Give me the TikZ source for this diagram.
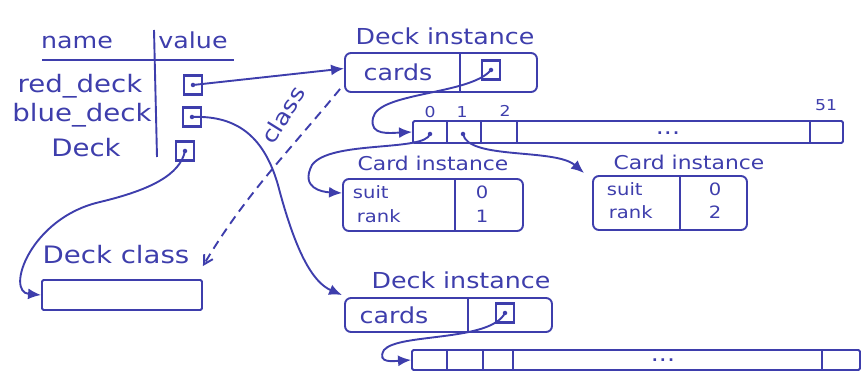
\documentclass[tikz,border=0pt]{standalone}
\usepackage{fontspec}
\setmainfont{DejaVu Sans}
\newfontfamily\hand[FakeStretch=1.15]{DejaVu Sans}
\usetikzlibrary{arrows.meta}
\definecolor{ink}{RGB}{62,62,172}
\tikzset{
  lbl/.style={inner sep=0pt, font=\hand\fontsize{22}{24}\selectfont},
  blbl/.style={inner sep=0pt, font=\hand\fontsize{24}{26}\selectfont},
  mlbl/.style={inner sep=0pt, font=\hand\fontsize{19}{21}\selectfont},
  slbl/.style={inner sep=0pt, font=\hand\fontsize{17}{19}\selectfont},
  tlbl/.style={inner sep=0pt, font=\hand\fontsize{15}{17}\selectfont},
  objbox/.style={draw, rounded corners=6pt, inner sep=0pt},
  plainbox/.style={draw, rounded corners=1.5pt, inner sep=0pt},
  ptrbox/.style={draw, inner sep=0pt, minimum width=18pt, minimum height=19pt, line width=2.1pt},
  dotn/.style={circle, fill, inner sep=0pt, minimum size=4.5pt},
  link/.style={-{Latex[length=13pt,width=11pt]}, line width=1.9pt},
  classlink/.style={-{Straight Barb[length=9pt,width=10pt]}, dashed, dash pattern=on 9pt off 6pt, line width=1.9pt},
}
\begin{document}
\begin{tikzpicture}[x=1pt,y=-1pt,color=ink,line width=1.9pt]
\useasboundingbox (0,0) rectangle (863,374);

% name/value table
\node[lbl] (hname) at (77,42) {name};
\node[lbl] (hvalue) at (193,40) {value};
\coordinate (hl) at (42,60); \coordinate (hr) at (234,60);
\draw (hl) -- (hr);
\coordinate (vt) at (154,30); \coordinate (vb) at (157,157);
\draw (vt) -- (vb);
\node[blbl] (nred) at (80,86) {red\_deck};
\node[blbl] (nblue) at (82,115) {blue\_deck};
\node[blbl] (ndeck) at (86,148) {Deck};
\node[ptrbox] (pred) at (193,85) {};
\node[ptrbox] (pblue) at (192,117) {};
\node[ptrbox] (pdeck) at (185,151) {};
\node[dotn] (pdred) at (pred.center) {};
\node[dotn] (pdblue) at (pblue.center) {};
\node[dotn] (pddeck) at (pdeck.center) {};

% Deck instance 1
\node[lbl] (di1l) at (445,36) {Deck instance};
\node[objbox, minimum width=192pt, minimum height=39pt] (di1) at (441,72.5) {};
\draw (460,53) -- (460,92);
\node[lbl] (di1k) at (398,72) {cards};
\node[ptrbox] (dp1) at (491,70) {};
\node[dotn] (dp1d) at (dp1.center) {};

% array 1
\node[plainbox, minimum width=430pt, minimum height=22pt] (a1) at (628,132) {};
\foreach \x in {447,481,517,810} \draw (\x,121) -- (\x,143);
\node[tlbl] (i0) at (430,112) {0};
\node[tlbl] (i1) at (462,112) {1};
\node[tlbl] (i2) at (505,111) {2};
\node[tlbl] (i51) at (826,105) {51};
\node[lbl] (a1dots) at (668,133) {...};
\node[dotn] (c0) at (430,134) {};
\node[dotn] (c1) at (463,134) {};

% Card instances
\node[mlbl] (ci1l) at (433,163) {Card instance};
\node[objbox, minimum width=180pt, minimum height=52pt] (ci1) at (433,205) {};
\draw (455,179) -- (455,231);
\node[slbl, anchor=west] (ci1s) at (352,192) {suit};
\node[slbl, anchor=west] (ci1r) at (356,216) {rank};
\node[slbl] (ci1sv) at (482,192) {0};
\node[slbl] (ci1rv) at (482,216) {1};

\node[mlbl] (ci2l) at (689,162) {Card instance};
\node[objbox, minimum width=154pt, minimum height=54pt] (ci2) at (670,203) {};
\draw (680,176) -- (680,230);
\node[slbl, anchor=west] (ci2s) at (606,189) {suit};
\node[slbl, anchor=west] (ci2r) at (608,212) {rank};
\node[slbl] (ci2sv) at (715,189) {0};
\node[slbl] (ci2rv) at (715,212) {2};

% Deck class
\node[blbl] (dcl) at (116,255) {Deck class};
\node[plainbox, minimum width=160pt, minimum height=30pt] (dc) at (122,295) {};

% Deck instance 2
\node[lbl] (di2l) at (461,280) {Deck instance};
\node[objbox, minimum width=207pt, minimum height=34pt] (di2) at (448.5,315) {};
\draw (468,298) -- (468,332);
\node[lbl] (di2k) at (394,315) {cards};
\node[ptrbox] (dp2) at (505,313) {};
\node[dotn] (dp2d) at (dp2.center) {};

% array 2
\node[plainbox, minimum width=448pt, minimum height=20pt] (a2) at (636,360) {};
\foreach \x in {447,483,513,822} \draw (\x,350) -- (\x,370);
\node[lbl] (a2dots) at (663,360) {...};

% connectors
\draw[link] (pred.center) -- ([yshift=4pt]di1.west);
\draw[link] (pblue.center) .. controls (240,115) and (265,140) .. (278,185)
  .. controls (295,250) and (312,282) .. ([xshift=-2pt,yshift=2pt]di2.north west);
\draw[link] (pdeck.center) .. controls (180,175) and (150,190) .. (100,202)
  .. controls (30,218) and (5,292) .. (dc.west);
\coordinate (dcin) at ([yshift=13pt]dc.north east);
\draw[classlink] ([xshift=-4pt,yshift=4pt]di1.south west) .. controls (290,150) and (245,195) .. (dcin);
\node[lbl, rotate=58] (clsl) at (283,115) {class};
\draw[link] (dp1.center) .. controls (470,95) and (378,92) .. (373,118)
  .. controls (369,136) and (390,133) .. (a1.west);
\coordinate (ci1in) at ([yshift=12pt]ci1.west);
\draw[link] (c0.center) .. controls (425,152) and (330,140) .. (312,165)
  .. controls (300,188) and (322,192) .. (ci1in);
\draw[link] (c1.center) .. controls (468,160) and (555,148) .. ([xshift=-8pt,yshift=2pt]ci2.north west);
\draw[link] (dp2.center) .. controls (490,342) and (398,333) .. (384,350)
  .. controls (376,364) and (395,361) .. (a2.west);
\end{tikzpicture}
\end{document}
